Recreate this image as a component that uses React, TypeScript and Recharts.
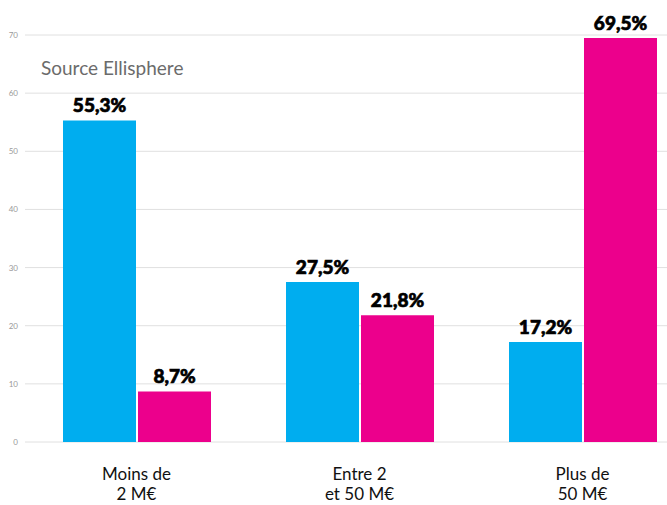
import React from "react";
import { BarChart, Bar, XAxis, YAxis, CartesianGrid, LabelList } from "recharts";

const categories = [["Moins de", "2 M€"], ["Entre 2", "et 50 M€"], ["Plus de", "50 M€"]];
const seriesBlue = [55.3, 27.5, 17.2];
const seriesPink = [8.7, 21.8, 69.5];
const yTicks = [0, 10, 20, 30, 40, 50, 60, 70];
const title = "Source Ellisphere";

const data = categories.map((c, i) => ({
  name: c.join("|"),
  blue: seriesBlue[i],
  pink: seriesPink[i],
}));

const FONT = "Lato, 'Open Sans', sans-serif";

const fmt = (v: any) => String(v).replace(".", ",") + "%";

const XTick = (props: any) => {
  const { x, y, payload } = props;
  const lines = String(payload.value).split("|");
  return (
    <text x={x} y={y} textAnchor="middle" fill="#111" fontFamily={FONT} fontSize={17}>
      <tspan x={x} dy={30}>{lines[0]}</tspan>
      <tspan x={x} dy={20}>{lines[1]}</tspan>
    </text>
  );
};

const YTick = (props: any) => {
  const { y, payload } = props;
  return (
    <text x={18} y={y} dy={3} textAnchor="end" fill="#999" fontFamily={FONT} fontSize={8}>
      {payload.value}
    </text>
  );
};

export default function App() {
  return (
    <div style={{ position: "absolute", left: 0, top: 0, width: 667, height: 505, overflow: "hidden", background: "#fff" }}>
      <BarChart
        width={694}
        height={505}
        data={data}
        margin={{ top: 35, right: 0, bottom: 0, left: 0 }}
        barGap={2}
      >
        <CartesianGrid vertical={false} stroke="#e0e0e0" />
        <XAxis dataKey="name" tick={<XTick />} axisLine={false} tickLine={false} height={63} interval={0} />
        <YAxis domain={[0, 70]} ticks={yTicks} tick={<YTick />} axisLine={false} tickLine={false} width={25} />
        <Bar dataKey="blue" fill="#00adef" barSize={73} isAnimationActive={false}>
          <LabelList dataKey="blue" position="top" offset={8} formatter={fmt} fill="#000" stroke="#000" strokeWidth={0.7} fontFamily={FONT} fontWeight={900} fontSize={19} />
        </Bar>
        <Bar dataKey="pink" fill="#ec008c" barSize={73} isAnimationActive={false}>
          <LabelList dataKey="pink" position="top" offset={8} formatter={fmt} fill="#000" stroke="#000" strokeWidth={0.7} fontFamily={FONT} fontWeight={900} fontSize={19} />
        </Bar>
      </BarChart>
      <div style={{ position: "absolute", left: 41, top: 56, fontFamily: FONT, fontSize: 19, color: "#6b6b6b", whiteSpace: "nowrap" }}>
        {title}
      </div>
    </div>
  );
}
